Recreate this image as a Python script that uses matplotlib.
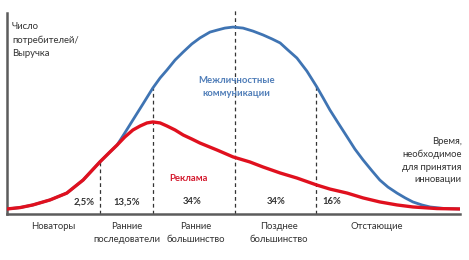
import numpy as np
import matplotlib
matplotlib.use('Agg')
import matplotlib.pyplot as plt

plt.rcParams['font.family'] = ['Lato', 'DejaVu Sans']

# Adoption time (0-100) and curve heights (0-100)
blue_x = [0, 2.9, 5.7, 9.5, 13.2, 16.8, 20.5, 22.7, 24.3, 26.0,
          27.8, 30.0, 32.2, 33.8, 35.3, 37.1, 38.9, 40.8, 42.6, 44.8,
          46.4, 48.1, 49.9, 52.1, 54.3, 56.5, 58.5, 60.3, 62.0, 64.0,
          66.2, 68.4, 69.8, 71.3, 73.1, 75.1, 76.8, 78.6, 80.6, 82.3,
          84.1, 86.1, 87.9, 89.6, 91.6, 93.4, 96.7, 100]
blue_y = [2.5, 3.2, 4.5, 7.0, 10.4, 16.9, 25.9, 30.8, 34.3, 40.3,
          46.8, 54.7, 62.7, 67.7, 71.6, 76.6, 80.6, 84.6, 87.6, 90.5,
          91.5, 92.5, 93.0, 92.5, 91.0, 89.1, 87.1, 85.1, 81.6, 77.6,
          71.1, 63.2, 57.7, 51.7, 45.3, 38.3, 32.3, 26.9, 21.4, 16.9,
          13.4, 10.4, 8.0, 6.0, 4.5, 3.5, 2.7, 2.5]

red_x = [0, 2.9, 5.7, 9.5, 13.2, 16.8, 20.5, 22.7, 24.3, 26.0,
         27.8, 29.4, 30.9, 32.2, 33.8, 35.3, 37.1, 38.9, 40.8, 42.6,
         46.4, 49.9, 53.6, 56.5, 60.3, 64.0, 68.4, 71.3, 75.1, 78.6,
         82.3, 86.1, 89.6, 94.9, 100]
red_y = [2.5, 3.2, 4.5, 7.0, 10.4, 16.9, 25.9, 30.8, 34.3, 38.3,
         41.8, 43.8, 45.3, 45.8, 45.3, 43.8, 41.8, 39.3, 37.3, 35.3,
         31.8, 28.4, 25.9, 23.4, 20.4, 17.9, 14.4, 12.4, 10.4, 8.0,
         6.0, 4.5, 3.5, 2.7, 2.5]

# segment borders and labels
borders = [20.5, 32.2, 50.3, 68.2]
shares = ['2,5%', '13,5%', '34%', '34%', '16%']
share_x = [17.0, 26.5, 40.8, 59.4, 71.7]
groups = ['Новаторы', 'Ранние\nпоследователи', 'Ранние\nбольшинство',
          'Позднее\nбольшинство', 'Отстающие']
group_x = [10.2, 26.5, 41.7, 60.0, 81.7]

blue = '#3f74b3'
red = '#e0101e'
axis_col = '#5c5c5c'
fs = 6.8

fig = plt.figure(figsize=(4.69, 2.6), dpi=100)
ax = fig.add_axes([7 / 469, 46 / 260, 453 / 469, 201 / 260])
ax.set_xlim(0, 100)
ax.set_ylim(0, 100)

# dashed borders, from axis up to the blue curve (middle one goes to the top)
for i, b in enumerate(borders):
    top = 101.5 if i == 2 else np.interp(b, blue_x, blue_y)
    ax.vlines(b, 0, top, colors='#333333', linestyles=(0, (3, 2.5)),
              linewidth=0.9, clip_on=False, zorder=1)

ax.plot(blue_x, blue_y, color=blue, linewidth=2.0, zorder=2,
        solid_capstyle='round', solid_joinstyle='round')
ax.plot(red_x, red_y, color=red, linewidth=2.4, zorder=3,
        solid_capstyle='round', solid_joinstyle='round')

for s, x in zip(shares, share_x):
    ax.text(x, 6.0, s, ha='center', va='center', fontsize=fs,
            fontweight='bold', color='#333333')

for g, x in zip(groups, group_x):
    ax.text(x, -4.0, g, ha='center', va='top', fontsize=fs, color='#333333',
            linespacing=1.6, clip_on=False)

ax.text(1.1, 86.6, 'Число\nпотребителей/\nВыручка', ha='left', va='center',
        fontsize=fs, color='#333333', linespacing=1.65)
ax.text(50.6, 63.2, 'Межличностные\nкоммуникации', ha='center',
        va='center', fontsize=fs, fontweight='bold', color='#4f7db8',
        linespacing=1.5)
ax.text(40.0, 17.9, 'Реклама', ha='center', va='center', fontsize=fs,
        fontweight='bold', color='#d41a2e')
ax.text(100.4, 26.6, 'Время,\nнеобходимое\nдля принятия\nинновации',
        ha='right', va='center', fontsize=fs, color='#333333',
        linespacing=1.5, clip_on=False)

for side in ['top', 'right']:
    ax.spines[side].set_visible(False)
for side in ['left', 'bottom']:
    ax.spines[side].set_color(axis_col)
    ax.spines[side].set_linewidth(1.8)
ax.set_xticks([])
ax.set_yticks([])

fig.savefig('out.png', dpi=100)
